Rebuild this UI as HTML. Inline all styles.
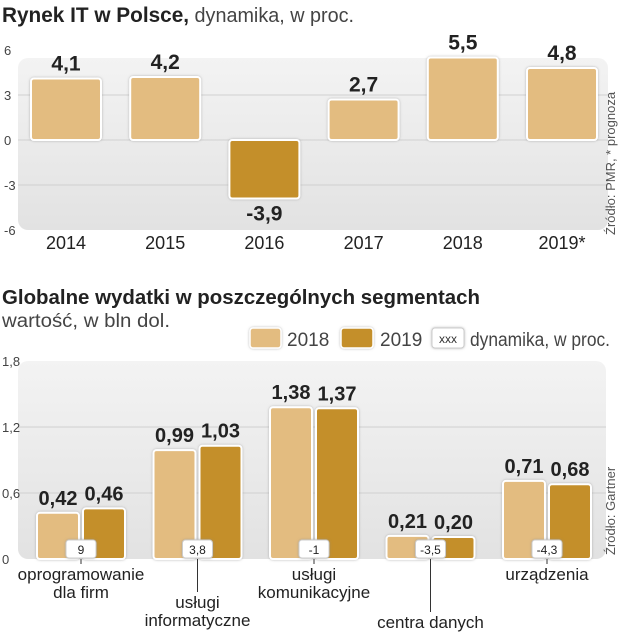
<!DOCTYPE html>
<html><head><meta charset="utf-8">
<style>
body{margin:0;background:#fff;}
svg{display:block;font-family:"Liberation Sans Narrow","Liberation Sans",sans-serif;}
</style></head>
<body>
<svg id="c" width="623" height="640" viewBox="0 0 623 640" xmlns="http://www.w3.org/2000/svg">
<defs>
<linearGradient id="pg" x1="0" y1="0" x2="0" y2="1"><stop offset="0" stop-color="#f3f3f3"/><stop offset="1" stop-color="#e2e2e2"/></linearGradient>
<filter id="sh" x="-20%" y="-20%" width="140%" height="140%"><feDropShadow dx="0" dy="0" stdDeviation="1.2" flood-color="#888" flood-opacity="0.6"/></filter>
</defs>
<text x="2" y="22" font-size="21" font-weight="bold" fill="#222" textLength="352" lengthAdjust="spacingAndGlyphs">Rynek IT w Polsce,<tspan font-weight="normal" font-size="20" fill="#444"> dynamika, w proc.</tspan></text>
<rect x="18" y="58" width="590" height="172" rx="10" fill="url(#pg)"/>
<g id="top"></g>
<text transform="translate(615,235) rotate(-90)" font-size="13" fill="#555">Źródło: PMR, * prognoza</text>

<text x="2" y="304" font-size="20" font-weight="bold" fill="#222" textLength="478" lengthAdjust="spacingAndGlyphs">Globalne wydatki  w poszczególnych segmentach</text>
<text x="2" y="327" font-size="19" fill="#444" textLength="168" lengthAdjust="spacingAndGlyphs">wartość, w bln dol.</text>
<g>
<rect x="250" y="328" width="31" height="20" rx="3" fill="#e3bc80" stroke="#fff" stroke-width="1.5" filter="url(#sh)"/>
<text x="287" y="346" font-size="19" fill="#444">2018</text>
<rect x="341" y="328" width="32" height="20" rx="3" fill="#c48f2a" stroke="#fff" stroke-width="1.5" filter="url(#sh)"/>
<text x="380" y="346" font-size="19" fill="#444">2019</text>
<rect x="432" y="328" width="32" height="20" rx="3" fill="#fff" stroke="#ccc" filter="url(#sh)"/>
<text x="448" y="343" font-size="12" fill="#333" text-anchor="middle">xxx</text>
<text x="470" y="346" font-size="19" fill="#444" textLength="140" lengthAdjust="spacingAndGlyphs">dynamika, w proc.</text>
</g>
<rect x="18" y="361" width="588" height="198" rx="10" fill="url(#pg)"/>
<g id="bot"></g>
<text transform="translate(615,555) rotate(-90)" font-size="13" fill="#555">Źródło: Gartner</text>
</svg>
<script>
const topYears=["2014","2015","2016","2017","2018","2019*"];
const topValues=[4.1,4.2,-3.9,2.7,5.5,4.8];
const topTicks=[6,3,0,-3,-6];
const botCats=[["oprogramowanie","dla firm"],["usługi","informatyczne"],["usługi","komunikacyjne"],["centra danych"],["urządzenia"]];
const bot2018=[0.42,0.99,1.38,0.21,0.71];
const bot2019=[0.46,1.03,1.37,0.20,0.68];
const botDyn=["9","3,8","-1","-3,5","-4,3"];
const botTicks=[1.8,1.2,0.6,0];

const NS="http://www.w3.org/2000/svg";
function mk(p,t,a,txt){const e=document.createElementNS(NS,t);for(const k in a)e.setAttribute(k,a[k]);if(txt!==undefined)e.textContent=txt;p.appendChild(e);return e;}
const fmt=v=>String(v).replace('.',',');
const fmt2=v=>v.toFixed(2).replace('.',',');

// top
const T=document.getElementById('top');
const ty=v=>140-v*15;
const tx=i=>66+i*99.2;
topTicks.forEach(t=>{
  if(t!==6&&t!==-6){const l=mk(T,'line',{x1:18,x2:608,y1:ty(t),y2:ty(t),stroke:'#d0d0d0','stroke-width':1});
  
  }
  const e=mk(T,'text',{x:4,y:ty(t)+5,'font-size':13,fill:'#444'},String(t));
  
  
});
topValues.forEach((v,i)=>{
  const y0=Math.min(ty(0),ty(v)),h=Math.abs(ty(v)-ty(0));
  const r=mk(T,'rect',{x:tx(i)-35,y:y0,width:70,height:h,rx:3,fill:v<0?'#c48f2a':'#e3bc80',stroke:'#fff','stroke-width':2,filter:'url(#sh)'});
  
  
  const ly=v<0?ty(v)+22:ty(v)-8;
  const l=mk(T,'text',{x:tx(i),y:ly,'font-size':21,'font-weight':'bold',fill:'#222','text-anchor':'middle'},fmt(v));
  
  
  const c=mk(T,'text',{x:tx(i),y:249,'font-size':18,fill:'#222','text-anchor':'middle'},topYears[i]);
  
  
});

// bottom
const B=document.getElementById('bot');
const by=v=>559-v*110;
const gx=i=>81+i*116.5;
botTicks.forEach(t=>{
  if(t!==0&&t!==1.8){const l=mk(B,'line',{x1:18,x2:606,y1:by(t),y2:by(t),stroke:'#d0d0d0','stroke-width':1});
  
  }
  const e=mk(B,'text',{x:2,y:by(t)+5,'font-size':13,fill:'#444'},fmt(t));
  
  
});
const labelY=[580,608,580,628,580];
botCats.forEach((c,i)=>{
  const cx=gx(i);
  [[bot2018[i],-44,'#e3bc80','2018'],[bot2019[i],2,'#c48f2a','2019']].forEach(([v,dx,col,s])=>{
    const r=mk(B,'rect',{x:cx+dx,y:by(v),width:42,height:by(0)-by(v),rx:3,fill:col,stroke:'#fff','stroke-width':2,filter:'url(#sh)'});
    
    
    const t=mk(B,'text',{x:cx+dx+21,y:by(v)-8,'font-size':20,'font-weight':'bold',fill:'#222','text-anchor':'middle'},fmt2(v));
    
    
  });
  const bx=mk(B,'rect',{x:cx-15,y:540,width:30,height:18,rx:3,fill:'#fff',stroke:'#ccc',filter:'url(#sh)'});
  
  
  const bt=mk(B,'text',{x:cx,y:554,'font-size':12,fill:'#222','text-anchor':'middle'},botDyn[i]);
  
  
  const ly=labelY[i];
  const ln=mk(B,'line',{x1:cx,x2:cx,y1:559,y2:ly-16,stroke:'#333','stroke-width':1});
  
  
  c.forEach((s,k)=>{
    const t=mk(B,'text',{x:cx,y:ly+k*18,'font-size':17,fill:'#222','text-anchor':'middle'},s);
    
    
  });
});
</script>
</body></html>
